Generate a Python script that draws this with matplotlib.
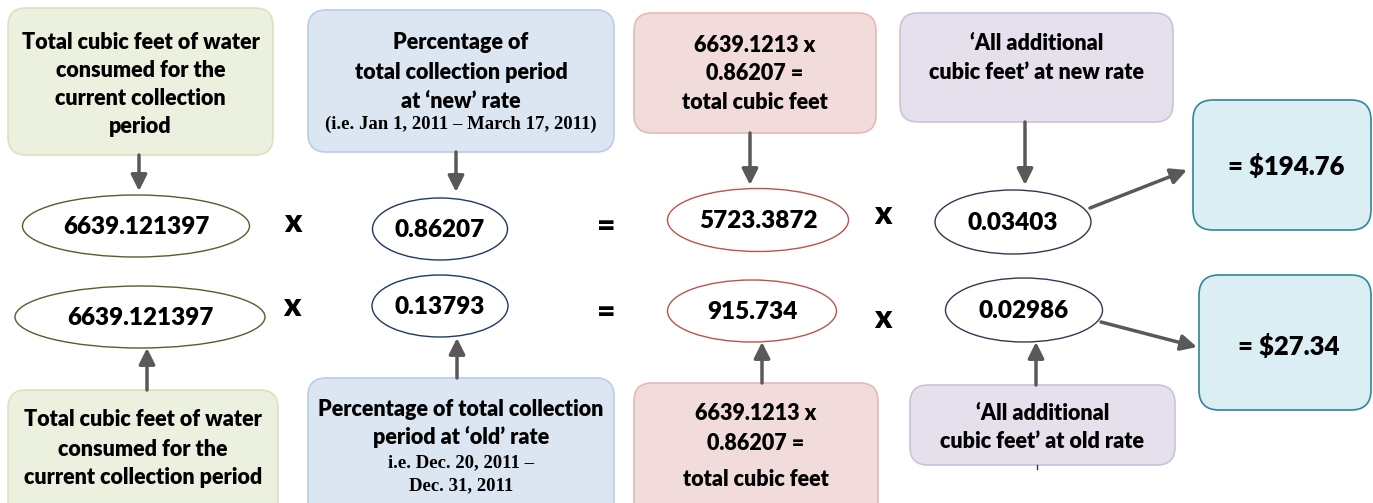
import matplotlib.pyplot as plt
from matplotlib.patches import FancyBboxPatch, Ellipse

# contenu du schéma
top_values = ["6639.121397", "0.86207", "5723.3872", "0.03403"]
bottom_values = ["6639.121397", "0.13793", "915.734", "0.02986"]
top_ops = ["x", "=", "x"]
bottom_ops = ["x", "=", "x"]
results = ["= $194.76", "= $27.34"]

top_box_text = [
    ["Total cubic feet of water", "consumed for the", "current collection", "period"],
    ["Percentage of", "total collection period", "at \u2018new\u2019 rate"],
    ["6639.1213 x", "0.86207 =", "total cubic feet"],
    ["\u2018All additional", "cubic feet\u2019 at new rate"],
]
top_box_note = [[], ["(i.e. Jan 1, 2011 \u2013 March 17, 2011)"], [], []]
bottom_box_text = [
    ["Total cubic feet of water", "consumed for the", "current collection period"],
    ["Percentage of total collection", "period at \u2018old\u2019 rate"],
    ["6639.1213 x", "0.86207 =", "total cubic feet"],
    ["\u2018All additional", "cubic feet\u2019 at old rate"],
]
bottom_box_note = [[], ["i.e. Dec. 20, 2011 \u2013", "Dec. 31, 2011"], [], []]

# couleurs
fills = ["#EBF1DE", "#DCE6F2", "#F2DCDB", "#E5E0EC"]
edges = ["#D7E4BD", "#B9CDE5", "#E6B9B8", "#CCC1DA"]
ell_edges = ["#4F6228", "#1F3864", "#C0504D", "#3F3151"]
res_fill = "#DBEEF4"
res_edge = "#31859C"
arrow_col = "#595959"

W, H = 1373, 503
fig = plt.figure(figsize=(W / 100, H / 100), dpi=100)
ax = fig.add_axes([0, 0, 1, 1])
ax.set_xlim(0, W)
ax.set_ylim(H, 0)
ax.axis("off")

SANS = "Lato"
SERIF = "Liberation Serif"
WEIGHT = "heavy"
BOX_FS = 15.5


def box(x0, y0, x1, y1, fc, ec, r=18):
    ax.add_patch(FancyBboxPatch((x0, y0), x1 - x0, y1 - y0,
                                boxstyle=f"round,pad=0,rounding_size={r}",
                                fc=fc, ec=ec, lw=1.2))


def arrow(x0, y0, x1, y1):
    ax.annotate("", xy=(x1, y1), xytext=(x0, y0),
                arrowprops=dict(arrowstyle="-|>", color=arrow_col, lw=2.5,
                                mutation_scale=24, shrinkA=0, shrinkB=0))


def lines(xc, ys, txts, **kw):
    for y, t in zip(ys, txts):
        ax.text(xc, y, t, ha="center", va="center", **kw)


# boîtes: (x0, y0, x1, y1) et position y de chaque ligne
top_boxes = [(8, 8, 273, 155), (308, 10, 614, 152), (634, 13, 876, 133), (900, 13, 1173, 122)]
top_line_y = [[42, 70, 98, 126], [42, 72, 101], [45, 73, 102], [43, 72]]
top_note_y = [[], [124], [], []]
bot_boxes = [(8, 390, 278, 520), (308, 378, 614, 520), (634, 383, 878, 520), (910, 385, 1175, 465)]
bot_line_y = [[420, 449, 478], [409, 437], [413, 444, 480], [414, 442]]
bot_note_y = [[], [463, 486], [], []]

for i in range(4):
    x0, y0, x1, y1 = top_boxes[i]
    box(x0, y0, x1, y1, fills[i], edges[i])
    lines((x0 + x1) / 2, top_line_y[i], top_box_text[i],
          fontsize=BOX_FS, fontweight=WEIGHT, family=SANS)
    lines((x0 + x1) / 2, top_note_y[i], top_box_note[i],
          fontsize=13.5, fontweight="bold", family=SERIF)
    x0, y0, x1, y1 = bot_boxes[i]
    box(x0, y0, x1, y1, fills[i], edges[i])
    lines((x0 + x1) / 2, bot_line_y[i], bottom_box_text[i],
          fontsize=BOX_FS, fontweight=WEIGHT, family=SANS)
    lines((x0 + x1) / 2, bot_note_y[i], bottom_box_note[i],
          fontsize=13.5, fontweight="bold", family=SERIF)

# ellipses: centre, largeur, hauteur
top_ell = [(136, 226, 227, 62), (440, 229, 135, 62), (758, 220, 181, 63), (1013, 222, 156, 64)]
bot_ell = [(140, 317, 250, 62), (440, 306, 136, 62), (752, 311, 169, 62), (1024, 310, 157, 64)]
for i in range(4):
    for (cx, cy, w, h), val in ((top_ell[i], top_values[i]), (bot_ell[i], bottom_values[i])):
        ax.add_patch(Ellipse((cx, cy), w, h, fc="white", ec=ell_edges[i], lw=1.0))
        ax.text(cx, cy + 1, val, ha="center", va="center", fontsize=17.5,
                fontweight=WEIGHT, family=SANS)

# opérateurs
top_op_xy = [(293, 222), (606, 226), (883, 215)]
bot_op_xy = [(292, 307), (606, 313), (883, 319)]
for (x, y), op in zip(top_op_xy + bot_op_xy, top_ops + bottom_ops):
    ax.text(x, y, op, ha="center", va="center", fontsize=23, fontweight=WEIGHT, family=SANS)

# résultats
res_boxes = [(1193, 100, 1371, 230), (1199, 275, 1371, 410)]
res_text_y = [167, 346]
res_text_x = [1286, 1289]
for (x0, y0, x1, y1), tx, ty, t in zip(res_boxes, res_text_x, res_text_y, results):
    box(x0, y0, x1, y1, res_fill, res_edge, r=20)
    ax.text(tx, ty, t, ha="center", va="center", fontsize=18.5,
            fontweight=WEIGHT, family=SANS)

# flèches verticales
arrow(139, 155, 139, 191)
arrow(456, 152, 456, 192)
arrow(750, 133, 750, 185)
arrow(1025, 122, 1025, 185)
arrow(147, 390, 147, 348)
arrow(457, 378, 457, 338)
arrow(762, 383, 762, 342)
arrow(1036, 385, 1036, 342)
# flèches vers les résultats
arrow(1090, 208, 1187, 170)
arrow(1101, 322, 1197, 347)
# petit trait sous la boîte violette du bas
ax.plot([1037, 1037], [465, 469], color="#3F3151", lw=1)

fig.savefig("out.png", dpi=100)
